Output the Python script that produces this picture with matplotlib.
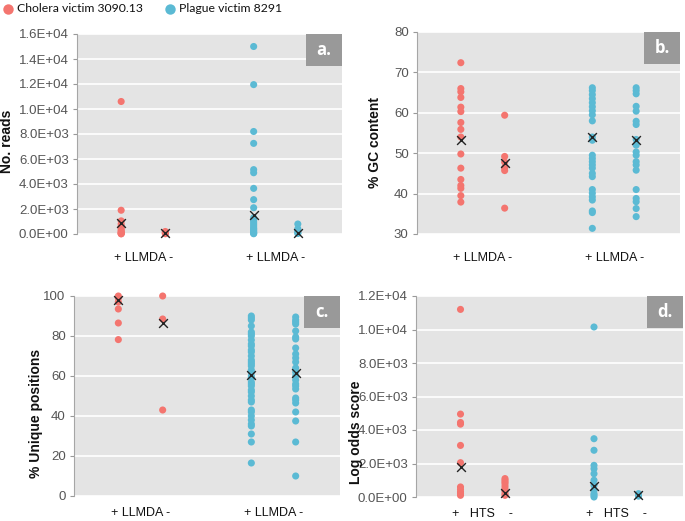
import matplotlib
matplotlib.use("Agg")
import matplotlib.pyplot as plt
from matplotlib.patches import Rectangle
from matplotlib.lines import Line2D
from matplotlib.ticker import FuncFormatter

RED = "#F4756F"
BLUE = "#5BBAD4"
BG = "#E4E4E4"

# ---------------- data ----------------
series_names = ["Cholera victim 3090.13", "Plague victim 8291"]

# panel a: No. reads
a_chol_pos = [10600, 1900, 1050, 800, 600, 450, 300, 200, 120, 60, 30, 10]
a_chol_neg = [200, 120, 60, 20]
a_plag_pos = [15000, 11950, 8200, 7250, 5150, 4900, 3650, 2750, 2100, 1300, 1100,
              950, 800, 650, 500, 400, 300, 200, 120, 60, 20]
a_plag_neg = [800, 420, 220, 100, 40]
a_means = [850, 50, 1520, 50]

# panel b: % GC content
b_chol_pos = [72.4, 66.0, 65.2, 63.8, 61.4, 60.3, 57.6, 55.9, 54.0, 49.8, 46.3,
              43.5, 42.0, 41.3, 39.5, 37.9]
b_chol_neg = [59.4, 49.2, 47.8, 46.4, 45.7, 36.4]
b_plag_pos = [66.2, 65.5, 64.5, 63.5, 62.5, 61.5, 60.5, 59.5, 58.0, 54.0, 53.2,
              49.5, 48.7, 47.9, 47.1, 46.3, 45.0, 44.2, 41.0, 40.1, 39.2, 38.4,
              35.7, 35.3, 31.4]
b_plag_neg = [66.2, 65.5, 64.7, 61.6, 60.4, 57.9, 57.1, 53.4, 52.0, 50.3, 49.5,
              47.9, 47.1, 45.8, 41.0, 38.8, 38.0, 36.3, 34.3]
b_means = [53.2, 47.5, 53.9, 53.2]

# panel c: % Unique positions
c_chol_pos = [100, 99, 97, 93.5, 86.5, 78.2]
c_chol_neg = [100, 88.5, 43]
c_plag_pos = [90, 89, 88, 85, 82, 81, 80, 78, 76, 75, 73, 72, 70, 68, 67, 66, 65,
              63, 62, 60, 59, 57, 56, 55, 53, 52, 50, 48, 47, 43, 42, 40, 38, 36,
              35, 31, 27, 16.5]
c_plag_neg = [89.5, 88, 87, 86, 82.5, 79.5, 78.5, 74, 71, 69, 67, 64, 62, 60, 58,
              56, 55, 53.5, 49, 48, 46.5, 42, 37.5, 27, 10]
c_means = [97.8, 86.5, 60.7, 61.7]

# panel d: Log odds score
d_chol_pos = [11200, 4950, 4450, 4350, 3080, 2050, 600, 450, 300, 200, 100]
d_chol_neg = [1100, 1000, 900, 800, 650, 500, 350, 200, 100]
d_plag_pos = [10150, 3480, 2790, 1890, 1690, 1390, 1000, 700, 400, 200, 100, 0]
d_plag_neg = [200, 100, 50]
d_means = [1800, 260, 680, 100]

positions = [1, 2, 4, 5]
xtick_pos = [1.5, 4.5]

# ---------------- figure ----------------
W, H = 685, 521
fig = plt.figure(figsize=(W / 100, H / 100), dpi=100)
plt.rcParams['font.family'] = ['Liberation Sans', 'DejaVu Sans']


def ax_at(l, r, t, b):
    return fig.add_axes([l / W, 1 - b / H, (r - l) / W, (b - t) / H])


sci = FuncFormatter(lambda v, p: "%.1E" % v)
plain = FuncFormatter(lambda v, p: "%d" % v)

panels = [
    dict(box=(77, 342, 34, 234), data=[a_chol_pos, a_chol_neg, a_plag_pos, a_plag_neg],
         means=a_means, ylim=(0, 16000), ticks=range(0, 16001, 2000), fmt=sci,
         ylabel="No. reads", lab=(-0.236, 0.465), tag="a.", xlab="+ LLMDA -", pad=13),
    dict(box=(417, 680, 32, 234), data=[b_chol_pos, b_chol_neg, b_plag_pos, b_plag_neg],
         means=b_means, ylim=(30, 80), ticks=range(30, 81, 10), fmt=plain,
         ylabel="% GC content", lab=(-0.133, 0.455), tag="b.", xlab="+ LLMDA -", pad=13),
    dict(box=(74, 340, 296, 496), data=[c_chol_pos, c_chol_neg, c_plag_pos, c_plag_neg],
         means=c_means, ylim=(0, 100), ticks=range(0, 101, 20), fmt=plain,
         ylabel="% Unique positions", lab=(-0.117, 0.415), tag="c.", xlab="+ LLMDA -", pad=8),
    dict(box=(416, 683, 296, 497), data=[d_chol_pos, d_chol_neg, d_plag_pos, d_plag_neg],
         means=d_means, ylim=(0, 12000), ticks=range(0, 12001, 2000), fmt=sci,
         ylabel="Log odds score", lab=(-0.2, 0.32), tag="d.", xlab="+   HTS    -", pad=8),
]

colors = [RED, RED, BLUE, BLUE]

for p in panels:
    ax = ax_at(*p["box"])
    ax.set_facecolor(BG)
    ax.set_axisbelow(True)
    ax.yaxis.grid(True, color="white", linewidth=1.2)
    for pos, vals, c in zip(positions, p["data"], colors):
        ax.scatter([pos] * len(vals), vals, s=26, color=c, edgecolors="none",
                   zorder=3, clip_on=False)
    ax.scatter(positions, p["means"], marker="x", s=40, color="#222222",
               linewidths=1.0, zorder=4, clip_on=False)
    ax.set_xlim(0, 6)
    ax.set_ylim(*p["ylim"])
    ax.set_yticks(list(p["ticks"]))
    ax.yaxis.set_major_formatter(p["fmt"])
    ax.set_xticks(xtick_pos)
    ax.set_xticklabels([p["xlab"], p["xlab"]], fontsize=9, color="#111111")
    ax.tick_params(axis="x", length=0, pad=p["pad"])
    ax.tick_params(axis="y", length=3, color="#999999", labelcolor="#555555",
                   labelsize=9.5, pad=3)
    for s in ["top", "right", "bottom"]:
        ax.spines[s].set_visible(False)
    ax.spines["left"].set_color("#A6A6A6")
    ax.set_ylabel(p["ylabel"], fontsize=10, fontweight="bold", color="#111111")
    ax.yaxis.set_label_coords(*p["lab"])
    # tag box
    bw = 36 / (p["box"][1] - p["box"][0])
    bh = 32 / (p["box"][3] - p["box"][2])
    ax.add_patch(Rectangle((1 - bw, 1 - bh), bw, bh, transform=ax.transAxes,
                           facecolor="#999999", edgecolor="none", zorder=5,
                           clip_on=False))
    ax.text(1 - bw / 2, 1 - bh / 2, p["tag"], transform=ax.transAxes,
            ha="center", va="center", color="white", fontsize=12,
            fontweight="bold", family=["Open Sans", "DejaVu Sans"], zorder=6)

# legend
legx = [(8, 17), (170, 179)]
for (cx, tx), name, c in zip(legx, series_names, [RED, BLUE]):
    fig.add_artist(Line2D([cx / W], [1 - 9 / H], marker="o", markersize=7.5,
                          color=c, markeredgewidth=0, linestyle="none",
                          transform=fig.transFigure))
    fig.text(tx / W, 1 - 9 / H, name, ha="left", va="center", fontsize=8.8,
             family=["Lato", "DejaVu Sans"], color="#111111")

fig.savefig("out.png", dpi=100)
